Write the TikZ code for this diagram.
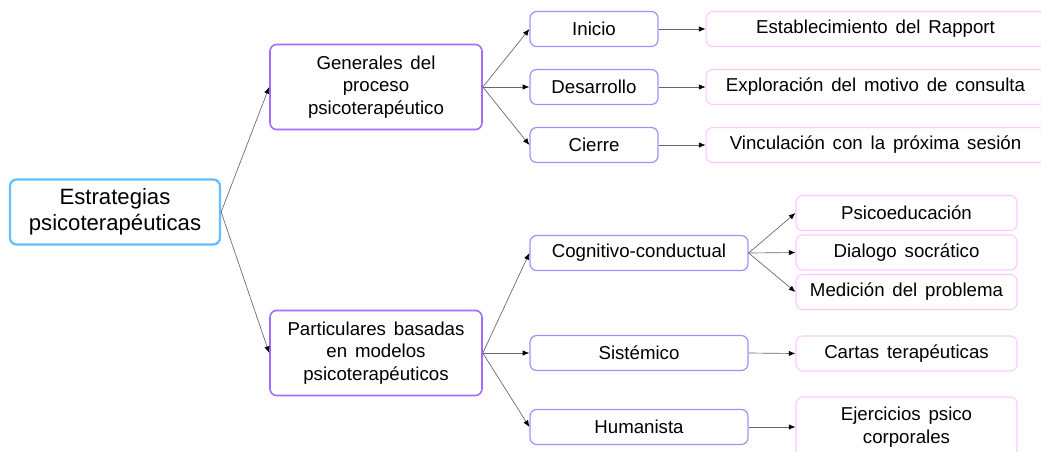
\documentclass[tikz,border=0pt]{standalone}
\usepackage{fontspec}
\setmainfont{Liberation Sans}
\usetikzlibrary{arrows.meta}
\definecolor{rootblue}{RGB}{100,190,255}
\definecolor{mainviolet}{RGB}{160,110,250}
\definecolor{subblue}{RGB}{150,150,255}
\definecolor{leafpink}{RGB}{255,200,255}
\newcommand{\mapfont}{\fontsize{14}{17}\selectfont\spaceskip=0.42em\relax}

\begin{document}
\begin{tikzpicture}[x=0.75pt, y=-0.75pt,
    box/.style={rectangle, rounded corners=5pt, align=center, inner sep=0pt,
      fill=white, font=\mapfont},
    rootbox/.style={box, draw=rootblue, line width=1.7pt, minimum width=157.5pt,
      minimum height=48.75pt, font=\fontsize{16.6}{19.5}\selectfont},
    mainbox/.style={box, draw=mainviolet, line width=1.2pt, minimum width=159pt,
      minimum height=63.75pt},
    subbox/.style={box, draw=subblue, line width=0.9pt, minimum height=26.25pt},
    leafbox/.style={box, draw=leafpink, line width=0.8pt, minimum height=26.25pt},
    link/.style={draw=black!60, line width=0.5pt, -{Latex[length=5pt,width=4pt,color=black]}}]
  \clip (0,0) rectangle (1041,451);
  \useasboundingbox (0,0) rectangle (1041,451);

  % root
  \node[rootbox] (root) at (115,212) {Estrategias\\psicoterapéuticas};

  % two main branches
  \node[mainbox] (gen) at (376,87) {Generales del\\proceso\\psicoterapéutico};
  \node[mainbox] (par) at (376,353) {Particulares basadas\\en modelos\\psicoterapéuticos};

  % stages of the process
  \node[subbox, minimum width=96pt] (ini) at (594,29) {Inicio};
  \node[subbox, minimum width=96pt] (des) at (594,87) {Desarrollo};
  \node[subbox, minimum width=96pt] (cie) at (594,145) {Cierre};

  \node[leafbox, minimum width=254pt] (rap) at (875.5,29) {Establecimiento del Rapport};
  \node[leafbox, minimum width=254pt] (exp) at (875.5,87) {Exploración del motivo de consulta};
  \node[leafbox, minimum width=254pt] (vin) at (875.5,145) {Vinculación con la próxima sesión};

  % models
  \node[subbox, minimum width=163.5pt] (cog) at (639,253) {Cognitivo-conductual};
  \node[subbox, minimum width=163.5pt] (sis) at (639,353) {Sistémico};
  \node[subbox, minimum width=163.5pt] (hum) at (639,427) {Humanista};

  \node[leafbox, minimum width=165.75pt] (psi) at (906.5,213) {Psicoeducación};
  \node[leafbox, minimum width=165.75pt] (dia) at (906.5,252.5) {Dialogo socrático};
  \node[leafbox, minimum width=165.75pt] (med) at (906.5,292) {Medición del problema};
  \node[leafbox, minimum width=165.75pt] (car) at (906.5,353.5) {Cartas terapéuticas};
  \node[leafbox, minimum width=165.75pt, minimum height=45pt] (eje) at (906.5,427) {Ejercicios psico\\corporales};

  % connectors
  \foreach \a/\b in {root/gen, root/par, gen/ini, gen/des, gen/cie, ini/rap, des/exp, cie/vin,
      par/cog, par/sis, par/hum, cog/psi, cog/dia, cog/med, sis/car, hum/eje}
    \draw[link] (\a.east) -- (\b.west);
\end{tikzpicture}
\end{document}
